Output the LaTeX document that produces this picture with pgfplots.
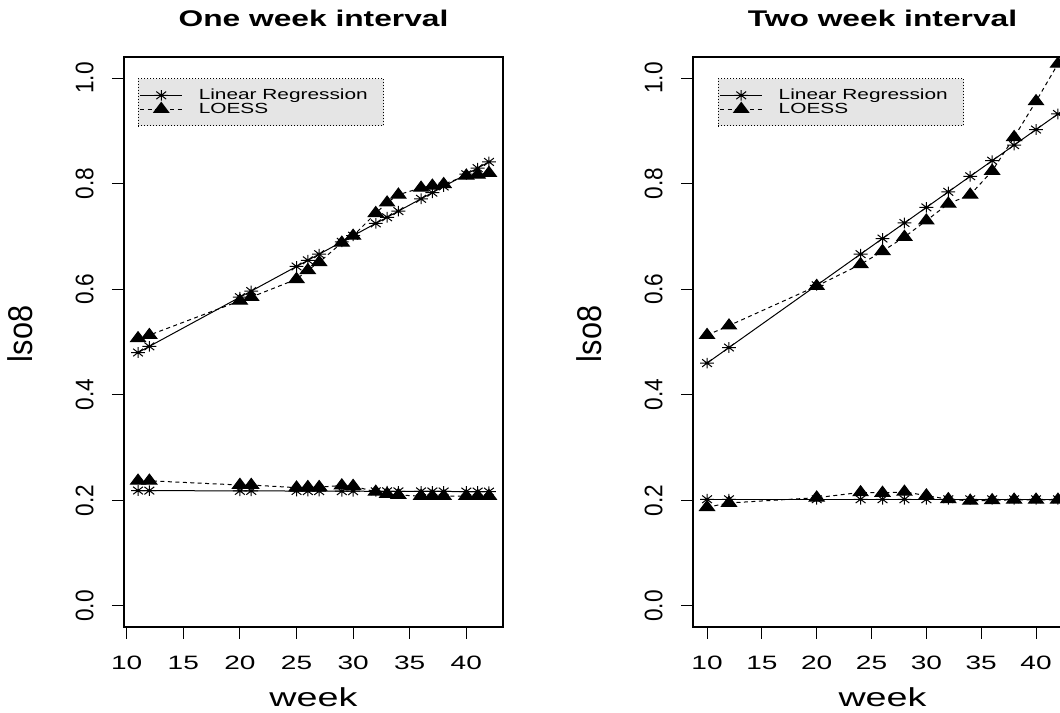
\documentclass[border=0pt]{standalone}
\usepackage{fontspec}
\setmainfont{Liberation Sans}
\usepackage{graphicx}
\usepackage{pgfplots}
\pgfplotsset{compat=1.18}
\definecolor{legfill}{HTML}{E5E5E5}
\newcommand{\sx}[1]{\scalebox{1.45}[1]{#1}}
\newcommand{\sxl}[1]{\scalebox{1.42}[1]{#1}}
\newcommand{\sxt}[1]{\scalebox{1.4}[1]{#1}}
\newcommand{\sy}[1]{\scalebox{1}[1.12]{#1}}
\pgfdeclareplotmark{rstar}{%
  \pgfpathmoveto{\pgfqpoint{-\pgfplotmarksize}{0pt}}%
  \pgfpathlineto{\pgfqpoint{\pgfplotmarksize}{0pt}}%
  \pgfpathmoveto{\pgfqpoint{0pt}{-\pgfplotmarksize}}%
  \pgfpathlineto{\pgfqpoint{0pt}{\pgfplotmarksize}}%
  \pgfpathmoveto{\pgfqpoint{-0.7071\pgfplotmarksize}{-0.7071\pgfplotmarksize}}%
  \pgfpathlineto{\pgfqpoint{0.7071\pgfplotmarksize}{0.7071\pgfplotmarksize}}%
  \pgfpathmoveto{\pgfqpoint{-0.7071\pgfplotmarksize}{0.7071\pgfplotmarksize}}%
  \pgfpathlineto{\pgfqpoint{0.7071\pgfplotmarksize}{-0.7071\pgfplotmarksize}}%
  \pgfusepathqstroke}
\pgfplotsset{
  lrstyle/.style={black, solid, line width=0.75pt, mark=rstar, mark size=4pt,
    mark options={solid, xscale=1.3, line width=0.75pt}},
  lostyle/.style={black, dash pattern=on 3pt off 2.6pt, line width=0.75pt, mark=triangle*, mark size=5pt,
    mark options={solid, xscale=1.3}},
  rpanel/.style={
    scale only axis, width=284.25pt, height=427.5pt,
    ymin=-0.04, ymax=1.04,
    axis line style={line width=0.9pt},
    tick align=outside, xtick pos=bottom, ytick pos=left,
    major tick length=9pt,
    tick style={black, line width=0.8pt},
    xtick={10,15,20,25,30,35,40},
    xticklabels={\sx{10},\sx{15},\sx{20},\sx{25},\sx{30},\sx{35},\sx{40}},
    ytick={0,0.2,0.4,0.6,0.8,1},
    yticklabels={\sy{0.0},\sy{0.2},\sy{0.4},\sy{0.6},\sy{0.8},\sy{1.0}},
    xticklabel style={font=\fontsize{14.5}{16}\selectfont, anchor=north, inner sep=0pt},
    xticklabel shift=12.75pt,
    yticklabel style={font=\fontsize{17}{18}\selectfont, xshift=-20.5pt, rotate=90, anchor=center},
    every axis title/.style={at={(axis description cs:0.5,1)}, anchor=center, yshift=29.25pt,
      font=\fontsize{17}{19}\selectfont\bfseries},
    every axis x label/.style={at={(axis description cs:0.5,0)}, anchor=center, yshift=-52.5pt,
      font=\fontsize{19.5}{22}\selectfont},
    every axis y label/.style={at={(axis description cs:0,0.5)}, xshift=-78pt, yshift=6pt, rotate=90, anchor=center,
      font=\fontsize{23}{25}\selectfont},
    xlabel={\sx{week}}, ylabel={\sy{lso8}},
    legend style={anchor=north west, fill=legfill, draw=black, dash pattern=on 0.75pt off 1.5pt,
      line width=0.6pt, inner xsep=1pt, inner ysep=7.9pt, row sep=0.6pt,
      nodes={inner sep=0pt},
      font=\fontsize{11}{12}\selectfont},
    legend cell align=left,
    legend image code/.code={%
      \draw[mark repeat=2,mark phase=2,##1] plot coordinates {(0pt,0pt) (15.75pt,0pt) (31.5pt,0pt)};},
  }
}
\begin{document}
\begin{tikzpicture}
\useasboundingbox (0,0) rectangle (795pt,534.75pt);
\clip (0,0) rectangle (795pt,534.75pt);
% left panel
\begin{axis}[rpanel, at={(93pt,64.5pt)}, anchor=south west,
  xmin=9.76, xmax=43.24,
  title={\sxt{One week interval}},
  legend style={at={(axis description cs:0.03704,0.96296)}}]
\addplot[lrstyle] coordinates {(11,0.4800) (12,0.4917) (20,0.5849) (21,0.5965) (25,0.6431) (26,0.6548) (27,0.6664) (29,0.6897) (30,0.7014) (32,0.7247) (33,0.7363) (34,0.7480) (36,0.7713) (37,0.7829) (38,0.7946) (40,0.8179) (41,0.8295) (42,0.8412)};
\addlegendentry{\hspace*{12pt}\sxl{Linear Regression}\hspace*{11pt}}
\addplot[lostyle] coordinates {(11,0.507) (12,0.513) (20,0.578) (21,0.585) (25,0.619) (26,0.636) (27,0.651) (29,0.688) (30,0.701) (32,0.744) (33,0.764) (34,0.779) (36,0.792) (37,0.796) (38,0.799) (40,0.815) (41,0.817) (42,0.820)};
\addlegendentry{\hspace*{12pt}\sxl{LOESS}}
\addplot[lrstyle, forget plot] coordinates {(11,0.2185) (12,0.2184) (20,0.2179) (21,0.2179) (25,0.2176) (26,0.2175) (27,0.2175) (29,0.2173) (30,0.2173) (32,0.2171) (33,0.2171) (34,0.2170) (36,0.2169) (37,0.2168) (38,0.2168) (40,0.2166) (41,0.2166) (42,0.2165)};
\addplot[lostyle, forget plot] coordinates {(11,0.237) (12,0.237) (20,0.229) (21,0.229) (25,0.224) (26,0.225) (27,0.225) (29,0.228) (30,0.227) (32,0.216) (33,0.212) (34,0.210) (36,0.208) (37,0.208) (38,0.208) (40,0.208) (41,0.208) (42,0.208)};
\end{axis}
% right panel
\begin{axis}[rpanel, at={(519.75pt,64.5pt)}, anchor=south west,
  xmin=8.72, xmax=43.28,
  title={\sxt{Two week interval}},
  legend style={at={(axis description cs:0.06597,0.96296)}}]
\addplot[lrstyle] coordinates {(10,0.4600) (12,0.4895) (20,0.6075) (24,0.6665) (26,0.6960) (28,0.7255) (30,0.7550) (32,0.7845) (34,0.8140) (36,0.8435) (38,0.8730) (40,0.9025) (42,0.9320)};
\addlegendentry{\hspace*{12pt}\sxl{Linear Regression}\hspace*{11pt}}
\addplot[lostyle] coordinates {(10,0.513) (12,0.531) (20,0.606) (24,0.647) (26,0.672) (28,0.699) (30,0.730) (32,0.762) (34,0.779) (36,0.824) (38,0.888) (40,0.956) (42,1.027)};
\addlegendentry{\hspace*{12pt}\sxl{LOESS}}
\addplot[lrstyle, forget plot] coordinates {(10,0.202) (12,0.202) (20,0.202) (24,0.202) (26,0.202) (28,0.202) (30,0.202) (32,0.202) (34,0.202) (36,0.202) (38,0.202) (40,0.202) (42,0.202)};
\addplot[lostyle, forget plot] coordinates {(10,0.187) (12,0.195) (20,0.205) (24,0.215) (26,0.214) (28,0.216) (30,0.209) (32,0.202) (34,0.199) (36,0.200) (38,0.201) (40,0.201) (42,0.201)};
\end{axis}
\end{tikzpicture}
\end{document}
